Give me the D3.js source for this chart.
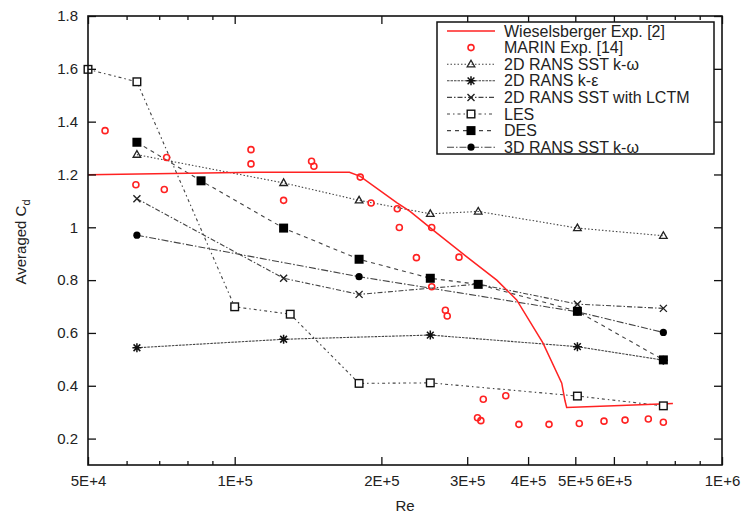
<!DOCTYPE html>
<html lang="en">
<head>
<meta charset="UTF-8">
<title>Averaged Cd vs Re</title>
<script src="https://cdn.jsdelivr.net/npm/d3@7"></script>
<style>
    body { margin: 0; background: #fff; }
    svg text { font-family: "Liberation Sans", Arial, Helvetica, sans-serif; fill: #222; }
</style>
</head>
<body>
<svg width="742" height="513"></svg>
<script>
    // values, [Re, Cd]
    var wieselsberger = [[50000,1.199],[110000,1.208],[172000,1.208],[181000,1.193],[215000,1.093],[229000,1.06],
        [255000,0.99],[299000,0.889],[345000,0.80],[379000,0.725],[429000,0.562],[469000,0.41],
        [476000,0.345],[480000,0.318],[600000,0.324],[793000,0.333]];
    var marin = [[54200,1.366],[62700,1.161],[71700,1.143],[72500,1.264],[108000,1.294],[108000,1.24],
        [126000,1.102],[143800,1.25],[145400,1.231],[181000,1.19],[190500,1.092],[215600,1.07],
        [217700,0.999],[253700,0.999],[236000,0.885],[288600,0.887],[253700,0.775],[270600,0.686],
        [273000,0.664],[323700,0.349],[315000,0.279],[320000,0.268],[360000,0.362],[383000,0.254],
        [441600,0.254],[509500,0.257],[572600,0.266],[632500,0.27],[706000,0.274],[758000,0.262]];
    var sstKw = [[63000,1.275],[126000,1.168],[180000,1.102],[252000,1.051],[316000,1.06],[505000,0.997],[758000,0.968]];
    var kEps = [[63000,0.544],[126000,0.576],[252000,0.592],[505000,0.548],[758000,0.497]];
    var lctm = [[63000,1.108],[126000,0.807],[180000,0.746],[316000,0.785],[505000,0.709],[758000,0.693]];
    var les = [[50000,1.598],[63000,1.551],[100000,0.699],[130000,0.671],[180000,0.409],[252000,0.411],[505000,0.361],[758000,0.324]];
    var des = [[63000,1.322],[85300,1.176],[126000,0.997],[180000,0.879],[252000,0.807],[316000,0.784],[505000,0.682],[758000,0.498]];
    var rans3d = [[63000,0.97],[180000,0.813],[505000,0.68],[758000,0.602]];

    var xMajor = [50000,100000,200000,300000,400000,500000,600000,1000000];
    var xMajorLabels = ["5E+4","1E+5","2E+5","3E+5","4E+5","5E+5","6E+5","1E+6"];
    var xMinor = [60000,70000,80000,90000,700000,800000,900000];
    var yTicks = [0.2,0.4,0.6,0.8,1,1.2,1.4,1.6,1.8];

    var svg = d3.select("svg"),
        pLeft = 88, pRight = 722, pTop = 16, pBottom = 465;

    var x = d3.scaleLog().domain([5e4, 1e6]).range([pLeft, pRight]);
    var y = d3.scaleLinear().domain([0.1, 1.8]).range([pBottom, pTop]);

    // marker shapes
    function tri(s) { return "M0," + (-s) + "L" + (s*0.95) + "," + (s*0.65) + "L" + (-s*0.95) + "," + (s*0.65) + "Z"; }
    function cross(s) { return "M" + (-s) + "," + (-s) + "L" + s + "," + s + "M" + (-s) + "," + s + "L" + s + "," + (-s); }
    function star(s) { return cross(s*0.75) + "M" + (-s) + ",0L" + s + ",0M0," + (-s) + "L0," + s; }

    var series = [
        {name: "2D RANS SST k-\u03c9", data: sstKw, dash: "1.5,2", mark: "tri"},
        {name: "2D RANS k-\u03b5", data: kEps, dash: "2.5,1", mark: "star"},
        {name: "2D RANS SST with LCTM", data: lctm, dash: "5,2,1.5,2", mark: "x"},
        {name: "LES", data: les, dash: "3,3,1.5,3", mark: "osq"},
        {name: "DES", data: des, dash: "4,4", mark: "fsq"},
        {name: "3D RANS SST k-\u03c9", data: rans3d, dash: "7,2,1.5,2", mark: "fci"}
    ];

    function drawMark(g, type, cx, cy) {
        if (type == "tri") {
            g.append("path").attr("d", tri(4)).attr("transform", "translate(" + cx + "," + cy + ")")
                .attr("fill", "none").attr("stroke", "#222").attr("stroke-width", 1.3);
        } else if (type == "star") {
            g.append("path").attr("d", star(4.5)).attr("transform", "translate(" + cx + "," + cy + ")")
                .attr("fill", "none").attr("stroke", "#111").attr("stroke-width", 1.5);
        } else if (type == "x") {
            g.append("path").attr("d", cross(3.5)).attr("transform", "translate(" + cx + "," + cy + ")")
                .attr("fill", "none").attr("stroke", "#222").attr("stroke-width", 1.4);
        } else if (type == "osq") {
            g.append("rect").attr("x", cx - 3.8).attr("y", cy - 3.8).attr("width", 7.6).attr("height", 7.6)
                .attr("fill", "#fff").attr("stroke", "#111").attr("stroke-width", 1.4);
        } else if (type == "fsq") {
            g.append("rect").attr("x", cx - 4.5).attr("y", cy - 4.5).attr("width", 9).attr("height", 9)
                .attr("fill", "#000");
        } else if (type == "fci") {
            g.append("circle").attr("cx", cx).attr("cy", cy).attr("r", 3.6).attr("fill", "#000");
        } else if (type == "oci") {
            g.append("circle").attr("cx", cx).attr("cy", cy).attr("r", 3)
                .attr("fill", "none").attr("stroke", "#f22").attr("stroke-width", 1.6);
        }
    }

    var line = d3.line()
        .x(function (d) { return x(d[0]); })
        .y(function (d) { return y(d[1]); });

    var plot = svg.append("g").attr("class", "plot");

    series.forEach(function (s) {
        plot.append("path")
            .attr("d", line(s.data))
            .attr("fill", "none")
            .attr("stroke", "#444")
            .attr("stroke-width", 1.1)
            .attr("stroke-dasharray", s.dash);
    });

    plot.append("path")
        .attr("d", line(wieselsberger))
        .attr("fill", "none")
        .attr("stroke", "#f22")
        .attr("stroke-width", 1.5);

    series.forEach(function (s) {
        s.data.forEach(function (d) { drawMark(plot, s.mark, x(d[0]), y(d[1])); });
    });
    marin.forEach(function (d) { drawMark(plot, "oci", x(d[0]), y(d[1])); });

    // axes, ticks pointing inward on all four sides
    function styleAxis(g) {
        g.select(".domain").remove();
        g.selectAll("line").attr("stroke", "#111").attr("stroke-width", 1.3);
        g.selectAll("text").style("font-size", "15px").attr("fill", "#333");
    }

    svg.append("g").attr("transform", "translate(0," + pBottom + ")")
        .call(d3.axisBottom(x).tickValues(xMajor).tickSize(-8).tickPadding(10)
            .tickFormat(function (d, i) { return xMajorLabels[i]; }))
        .call(styleAxis);
    svg.append("g").attr("transform", "translate(0," + pBottom + ")")
        .call(d3.axisBottom(x).tickValues(xMinor).tickSize(-4).tickFormat(""))
        .call(styleAxis);
    svg.append("g").attr("transform", "translate(0," + pTop + ")")
        .call(d3.axisTop(x).tickValues(xMajor).tickSize(-8).tickFormat(""))
        .call(styleAxis);
    svg.append("g").attr("transform", "translate(0," + pTop + ")")
        .call(d3.axisTop(x).tickValues(xMinor).tickSize(-4).tickFormat(""))
        .call(styleAxis);
    svg.append("g").attr("transform", "translate(" + pLeft + ",0)")
        .call(d3.axisLeft(y).tickValues(yTicks).tickSize(-8).tickPadding(10)
            .tickFormat(function (d) { return d3.format("")(d); }))
        .call(styleAxis);
    svg.append("g").attr("transform", "translate(" + pRight + ",0)")
        .call(d3.axisRight(y).tickValues(yTicks).tickSize(-8).tickFormat(""))
        .call(styleAxis);

    svg.append("rect")
        .attr("x", pLeft).attr("y", pTop)
        .attr("width", pRight - pLeft).attr("height", pBottom - pTop)
        .attr("fill", "none").attr("stroke", "#111").attr("stroke-width", 1.6);

    // axis titles
    svg.append("text")
        .attr("x", 405).attr("y", 511)
        .attr("text-anchor", "middle")
        .style("font-size", "15px")
        .text("Re");

    var yl = svg.append("text")
        .attr("transform", "translate(26,242) rotate(-90)")
        .attr("text-anchor", "middle")
        .style("font-size", "15px");
    yl.append("tspan").text("Averaged C");
    yl.append("tspan").attr("dy", 4).style("font-size", "11px").text("d");

    // legend
    var lg = svg.append("g").attr("class", "legend");
    lg.append("rect")
        .attr("x", 437).attr("y", 22).attr("width", 277).attr("height", 132)
        .attr("fill", "#fff").attr("stroke", "#111").attr("stroke-width", 1.5);

    var rowY = function (i) { return 31 + i * 16.6; };
    lg.append("line").attr("x1", 447).attr("x2", 495).attr("y1", rowY(0)).attr("y2", rowY(0))
        .attr("stroke", "#f22").attr("stroke-width", 1.5);
    drawMark(lg, "oci", 471, rowY(1));
    series.forEach(function (s, i) {
        lg.append("line").attr("x1", 447).attr("x2", 495).attr("y1", rowY(i + 2)).attr("y2", rowY(i + 2))
            .attr("stroke", "#444").attr("stroke-width", 1.1).attr("stroke-dasharray", s.dash);
        drawMark(lg, s.mark, 471, rowY(i + 2));
    });
    var names = ["Wieselsberger Exp. [2]", "MARIN Exp. [14]"].concat(series.map(function (s) { return s.name; }));
    names.forEach(function (n, i) {
        lg.append("text")
            .attr("x", 504).attr("y", rowY(i) + 5.5)
            .style("font-size", "16px")
            .text(n);
    });
</script>
</body>
</html>
